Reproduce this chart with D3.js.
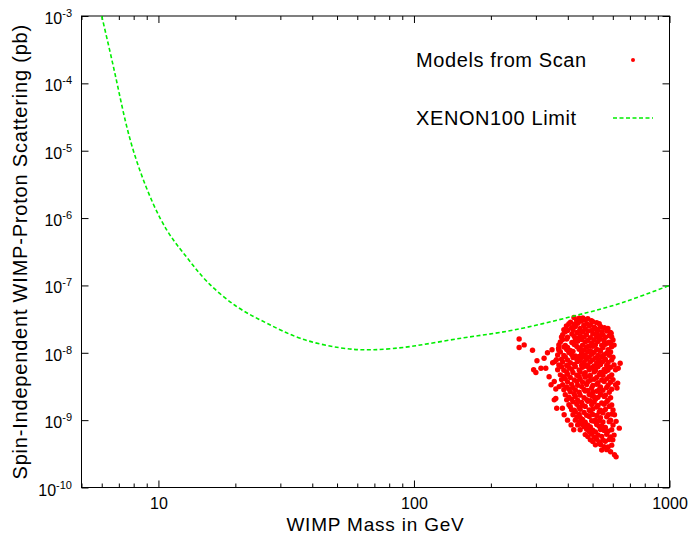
<!DOCTYPE html>
<html>
<head>
<meta charset="utf-8">
<script src="https://cdn.jsdelivr.net/npm/d3@7"></script>
<style>
  body { margin: 0; background: #fff; }
  svg { display: block; font-family: "Liberation Sans", Arial, Helvetica, sans-serif; }
</style>
</head>
<body>
<div id="chart"></div>
<script>
"use strict";

// === XENON100 limit (GeV, pb) ===
const limitMass  = [6.0, 6.89, 7.98, 10.15, 12.7, 15.5, 20.3, 26.6, 35.9, 51.1, 69.5, 99.8, 156.7, 246, 423, 646, 1000];
const limitSigma = [1e-3, 1e-4, 1e-5, 1e-6, 2.83e-7, 1.14e-7, 4.83e-8, 2.74e-8, 1.64e-8, 1.19e-8, 1.11e-8, 1.26e-8, 1.67e-8, 2.18e-8, 3.52e-8, 5.48e-8, 1.0e-7];

// === Models from the scan: [mass (GeV), sigma (pb)] ===
const scanModels = [
  [423, 3.35e-8], [443, 3.25e-8], [458, 3.3e-8], [479, 3.2e-8],
  [433, 3.05e-8], [468, 3.1e-8], [495, 3.0e-8],
  [410, 2.85e-8], [452, 2.95e-8], [501, 2.9e-8], [519, 2.8e-8],
  [404, 2.7e-8], [424, 2.65e-8], [438, 2.75e-8], [474, 2.7e-8], [490, 2.6e-8], [531, 2.7e-8],
  [395, 2.5e-8], [428, 2.45e-8], [462, 2.55e-8], [485, 2.5e-8], [537, 2.45e-8],
  [414, 2.35e-8], [447, 2.3e-8], [507, 2.4e-8], [513, 2.3e-8], [556, 2.35e-8], [574, 2.3e-8],
  [386, 2.2e-8], [399, 2.15e-8], [419, 2.2e-8], [444, 2.1e-8], [468, 2.25e-8], [496, 2.15e-8], [525, 2.2e-8], [568, 2.1e-8],
  [391, 2.05e-8], [434, 2.0e-8], [457, 2.05e-8], [479, 2.1e-8], [519, 2.0e-8], [543, 2.05e-8], [587, 2.0e-8],
  [382, 1.85e-8], [415, 1.9e-8], [447, 1.8e-8], [473, 1.85e-8], [501, 1.9e-8], [531, 1.8e-8], [549, 1.85e-8], [581, 1.8e-8],
  [378, 1.72e-8], [399, 1.7e-8], [424, 1.75e-8], [437, 1.65e-8], [463, 1.72e-8], [490, 1.68e-8], [519, 1.75e-8], [561, 1.7e-8], [594, 1.72e-8],
  [381, 1.56e-8], [396, 1.6e-8], [428, 1.55e-8], [453, 1.58e-8], [479, 1.52e-8], [507, 1.56e-8], [537, 1.6e-8], [555, 1.5e-8], [601, 1.55e-8],
  [374, 1.45e-8], [415, 1.42e-8], [437, 1.48e-8], [468, 1.45e-8], [496, 1.4e-8], [525, 1.47e-8], [581, 1.43e-8], [588, 1.38e-8],
  [369, 1.31e-8], [391, 1.28e-8], [424, 1.33e-8], [457, 1.3e-8], [485, 1.26e-8], [513, 1.32e-8], [543, 1.29e-8], [561, 1.34e-8], [607, 1.3e-8],
  [386, 1.22e-8], [399, 1.2e-8], [434, 1.24e-8], [447, 1.18e-8], [474, 1.22e-8], [501, 1.25e-8], [549, 1.2e-8], [594, 1.23e-8],
  [369, 1.1e-8], [396, 1.12e-8], [409, 1.08e-8], [443, 1.13e-8], [463, 1.1e-8], [490, 1.07e-8], [519, 1.12e-8], [531, 1.09e-8], [575, 1.11e-8],
  [374, 1.03e-8], [404, 1.01e-8], [419, 1.05e-8], [453, 1.0e-8], [479, 1.04e-8], [507, 1.02e-8], [537, 1.05e-8], [568, 9.9e-9], [588, 1.03e-8],
  [365, 9.3e-9], [386, 9.1e-9], [414, 9.4e-9], [428, 9.0e-9], [468, 9.3e-9], [496, 9.5e-9], [525, 9.1e-9], [555, 9.4e-9], [581, 9.2e-9],
  [391, 8.7e-9], [419, 8.5e-9], [443, 8.8e-9], [457, 8.6e-9], [485, 8.7e-9], [513, 8.4e-9], [543, 8.8e-9], [601, 8.6e-9],
  [361, 7.9e-9], [378, 8.0e-9], [399, 7.8e-9], [434, 7.95e-9], [447, 7.7e-9], [474, 8.0e-9], [501, 7.85e-9], [531, 7.7e-9], [561, 8.0e-9], [594, 7.8e-9],
  [382, 7.3e-9], [409, 7.1e-9], [437, 7.4e-9], [463, 7.2e-9], [490, 7.35e-9], [519, 7.1e-9], [549, 7.4e-9], [575, 7.2e-9],
  [369, 6.6e-9], [396, 6.5e-9], [424, 6.7e-9], [453, 6.55e-9], [479, 6.6e-9], [507, 6.4e-9], [537, 6.7e-9], [568, 6.5e-9], [607, 6.6e-9],
  [378, 6.2e-9], [404, 6.05e-9], [428, 6.25e-9], [457, 6.1e-9], [473, 6.3e-9], [496, 6.0e-9], [525, 6.2e-9], [588, 6.1e-9],
  [365, 5.6e-9], [386, 5.5e-9], [414, 5.7e-9], [443, 5.55e-9], [485, 5.6e-9], [513, 5.45e-9], [555, 5.65e-9], [574, 5.5e-9], [615, 5.6e-9],
  [396, 5.2e-9], [419, 5.1e-9], [447, 5.25e-9], [468, 5.05e-9], [507, 5.2e-9], [537, 5.1e-9], [561, 5.25e-9],
  [374, 4.7e-9], [399, 4.8e-9], [434, 4.65e-9], [463, 4.75e-9], [490, 4.6e-9], [531, 4.75e-9], [549, 4.65e-9], [594, 4.7e-9],
  [386, 4.4e-9], [409, 4.3e-9], [443, 4.45e-9], [468, 4.35e-9], [485, 4.5e-9], [519, 4.3e-9], [581, 4.4e-9],
  [378, 4.0e-9], [391, 4.1e-9], [424, 3.95e-9], [447, 4.05e-9], [490, 3.9e-9], [507, 4.05e-9], [543, 3.95e-9], [568, 4.1e-9], [601, 4.0e-9],
  [399, 3.7e-9], [434, 3.75e-9], [457, 3.65e-9], [479, 3.72e-9], [525, 3.6e-9], [555, 3.75e-9], [588, 3.65e-9],
  [382, 3.35e-9], [414, 3.4e-9], [437, 3.3e-9], [474, 3.38e-9], [501, 3.28e-9], [519, 3.4e-9], [575, 3.3e-9], [615, 3.35e-9],
  [396, 3.1e-9], [419, 3.05e-9], [453, 3.15e-9], [496, 3.0e-9], [537, 3.12e-9], [568, 3.05e-9],
  [386, 2.83e-9], [404, 2.9e-9], [428, 2.8e-9], [463, 2.86e-9], [479, 2.75e-9], [531, 2.85e-9], [549, 2.78e-9], [594, 2.88e-9],
  [409, 2.65e-9], [443, 2.6e-9], [468, 2.7e-9], [501, 2.62e-9], [519, 2.68e-9], [581, 2.6e-9],
  [391, 2.38e-9], [424, 2.42e-9], [447, 2.35e-9], [485, 2.4e-9], [496, 2.32e-9], [537, 2.4e-9], [561, 2.35e-9],
  [404, 2.2e-9], [428, 2.25e-9], [463, 2.15e-9], [507, 2.22e-9], [525, 2.18e-9], [555, 2.25e-9], [588, 2.15e-9],
  [396, 2.0e-9], [414, 2.05e-9], [437, 1.97e-9], [474, 2.02e-9], [490, 1.95e-9], [513, 2.05e-9], [574, 1.98e-9],
  [419, 1.87e-9], [453, 1.83e-9], [479, 1.9e-9], [507, 1.85e-9], [543, 1.8e-9], [568, 1.88e-9],
  [404, 1.69e-9], [434, 1.72e-9], [457, 1.66e-9], [496, 1.7e-9], [525, 1.65e-9], [555, 1.72e-9], [594, 1.68e-9],
  [409, 1.58e-9], [443, 1.55e-9], [468, 1.6e-9], [519, 1.57e-9], [581, 1.6e-9],
  [414, 1.43e-9], [424, 1.4e-9], [447, 1.45e-9], [485, 1.42e-9], [501, 1.46e-9], [537, 1.41e-9], [561, 1.44e-9], [601, 1.42e-9],
  [428, 1.33e-9], [463, 1.3e-9], [490, 1.35e-9], [531, 1.32e-9], [549, 1.29e-9],
  [419, 1.2e-9], [443, 1.22e-9], [474, 1.18e-9], [501, 1.21e-9], [519, 1.17e-9], [575, 1.2e-9], [594, 1.23e-9],
  [434, 1.12e-9], [447, 1.1e-9], [485, 1.13e-9], [537, 1.09e-9], [568, 1.12e-9],
  [428, 1.0e-9], [457, 1.02e-9], [496, 9.8e-10], [513, 1.01e-9], [531, 9.9e-10], [588, 1.0e-9],
  [443, 9.5e-10], [468, 9.3e-10], [507, 9.6e-10], [549, 9.4e-10], [581, 9.5e-10],
  [437, 8.5e-10], [453, 8.7e-10], [479, 8.4e-10], [519, 8.6e-10], [543, 8.3e-10], [601, 8.5e-10],
  [463, 8.0e-10], [490, 7.9e-10], [531, 8.1e-10], [561, 7.8e-10],
  [447, 7.2e-10], [474, 7.3e-10], [501, 7.1e-10], [537, 7.25e-10], [555, 7.0e-10], [594, 7.2e-10],
  [485, 6.8e-10], [513, 6.7e-10], [575, 6.85e-10],
  [468, 6.1e-10], [496, 6.2e-10], [525, 6.05e-10], [568, 6.15e-10], [607, 6.0e-10],
  [479, 5.7e-10], [507, 5.6e-10], [543, 5.75e-10], [588, 5.65e-10],
  [490, 5.1e-10], [519, 5.2e-10], [549, 5.05e-10], [581, 5.15e-10],
  [501, 4.8e-10], [531, 4.75e-10], [561, 4.85e-10],
  [513, 4.3e-10], [537, 4.35e-10], [594, 4.25e-10],
  [555, 4.05e-10], [575, 4.0e-10],
  [543, 3.6e-10], [568, 3.65e-10],
  [588, 3.4e-10],
  // stragglers around the main cloud
  [258, 1.6e-8], [270, 1.31e-8], [258, 1.2e-8], [291, 1.09e-8], [333, 1.0e-8], [347, 1.11e-8], [368, 1.16e-8],
  [303, 7.6e-9], [323, 8.3e-9], [314, 5.9e-9], [328, 5.9e-9], [349, 7.1e-9], [356, 7.4e-9], [294, 5.6e-9], [300, 5.1e-9],
  [338, 4.4e-9], [344, 3.35e-9], [354, 3.75e-9], [359, 2.9e-9], [370, 3.15e-9], [359, 2.1e-9], [354, 2.0e-9],
  [362, 1.5e-9], [381, 1.5e-9], [387, 1.2e-9], [399, 1.0e-9], [412, 8.5e-10], [422, 7.2e-10],
  [609, 3.07e-10], [618, 2.85e-10], [600, 5.1e-10], [636, 7.6e-10], [618, 9.6e-10], [609, 1.2e-9],
  [623, 3.0e-9], [627, 3.55e-9], [641, 7.0e-9], [630, 5.9e-9], [591, 1.95e-8], [574, 1.4e-8]
];

// === Ticks ===
const xMajorTicks = [10, 100, 1000];
const xMinorTicks = [5, 6, 7, 8, 9, 20, 30, 40, 50, 60, 70, 80, 90, 200, 300, 400, 500, 600, 700, 800, 900];
const yTicks = [1e-3, 1e-4, 1e-5, 1e-6, 1e-7, 1e-8, 1e-9, 1e-10];
const yTickExponents = ["-3", "-4", "-5", "-6", "-7", "-8", "-9", "-10"];

// === SVG setup ===
const width = 691, height = 535;
const plot = { left: 81.5, right: 669.5, top: 16, bottom: 487.5 };

const svg = d3.select("#chart")
  .append("svg")
  .attr("width", width)
  .attr("height", height);

// === Scales ===
const x = d3.scaleLog().domain([5, 1000]).range([plot.left, plot.right]);
const y = d3.scaleLog().domain([1e-10, 1e-3]).range([plot.bottom, plot.top]);

// === Axes (ticks point inward, mirrored on top/right) ===
function drawAxis(axis, tx, ty) {
  const g = svg.append("g")
    .attr("transform", `translate(${tx},${ty})`)
    .call(axis);
  g.select(".domain").remove();
  g.selectAll(".tick line").attr("stroke", "#000");
  return g;
}

const bottomMajor = drawAxis(d3.axisBottom(x).tickValues(xMajorTicks).tickSize(-7).tickPadding(10)
  .tickFormat(d3.format("d")), 0, plot.bottom);
bottomMajor.selectAll("text")
  .attr("font-size", "16px")
  .attr("font-family", "Liberation Sans, Arial, sans-serif")
  .attr("fill", "#000");
drawAxis(d3.axisBottom(x).tickValues(xMinorTicks).tickSize(-4).tickFormat(""), 0, plot.bottom);
drawAxis(d3.axisTop(x).tickValues(xMajorTicks).tickSize(-7).tickFormat(""), 0, plot.top);
drawAxis(d3.axisTop(x).tickValues(xMinorTicks).tickSize(-4).tickFormat(""), 0, plot.top);
drawAxis(d3.axisLeft(y).tickValues(yTicks).tickSize(-7).tickFormat(""), plot.left, 0);
drawAxis(d3.axisRight(y).tickValues(yTicks).tickSize(-7).tickFormat(""), plot.right, 0);

// y tick labels with superscript exponent
const yLabels = svg.append("g")
  .selectAll("text")
  .data(yTicks)
  .enter()
  .append("text")
  .attr("x", 72)
  .attr("y", d => y(d) + 8)
  .attr("text-anchor", "end")
  .attr("font-size", "16px");
yLabels.append("tspan").text("10");
yLabels.append("tspan")
  .attr("font-size", "11px")
  .attr("dy", -7)
  .text((d, i) => yTickExponents[i]);

// === Plot border ===
svg.append("rect")
  .attr("x", plot.left)
  .attr("y", plot.top)
  .attr("width", plot.right - plot.left)
  .attr("height", plot.bottom - plot.top)
  .attr("fill", "none")
  .attr("stroke", "#000")
  .attr("stroke-width", 1);

// === Clip ===
svg.append("clipPath").attr("id", "plot-clip")
  .append("rect")
  .attr("x", plot.left)
  .attr("y", plot.top)
  .attr("width", plot.right - plot.left)
  .attr("height", plot.bottom - plot.top);

// === Scan models ===
svg.append("g")
  .attr("clip-path", "url(#plot-clip)")
  .selectAll("circle")
  .data(scanModels)
  .enter()
  .append("circle")
  .attr("cx", d => x(d[0]))
  .attr("cy", d => y(d[1]))
  .attr("r", 2.7)
  .attr("fill", "#ff0000");

// === XENON100 limit ===
const limitPoints = limitMass.map((m, i) => [m, limitSigma[i]]);
const line = d3.line()
  .x(d => x(d[0]))
  .y(d => y(d[1]))
  .curve(d3.curveNatural);

svg.append("path")
  .datum(limitPoints)
  .attr("clip-path", "url(#plot-clip)")
  .attr("d", line)
  .attr("fill", "none")
  .attr("stroke", "#00ee00")
  .attr("stroke-width", 1.6)
  .attr("stroke-dasharray", "4,2.5");

// === Key ===
svg.append("text")
  .attr("x", 416)
  .attr("y", 67)
  .attr("font-size", "20px")
  .attr("letter-spacing", "0.6px")
  .text("Models from Scan");

svg.append("circle")
  .attr("cx", 633)
  .attr("cy", 60)
  .attr("r", 2)
  .attr("fill", "#ff0000");

svg.append("text")
  .attr("x", 416)
  .attr("y", 125)
  .attr("font-size", "20px")
  .attr("letter-spacing", "0.6px")
  .text("XENON100 Limit");

svg.append("line")
  .attr("x1", 613).attr("x2", 653)
  .attr("y1", 118).attr("y2", 118)
  .attr("stroke", "#00ee00")
  .attr("stroke-width", 1.6)
  .attr("stroke-dasharray", "4,2.5");

// === Axis titles ===
svg.append("text")
  .attr("x", (plot.left + plot.right) / 2)
  .attr("y", 531)
  .attr("text-anchor", "middle")
  .attr("font-size", "19px")
  .attr("letter-spacing", "0.8px")
  .text("WIMP Mass in GeV");

svg.append("text")
  .attr("transform", "rotate(-90)")
  .attr("x", -(plot.top + plot.bottom) / 2)
  .attr("y", 27)
  .attr("text-anchor", "middle")
  .attr("font-size", "20px")
  .attr("letter-spacing", "0.8px")
  .text("Spin-Independent WIMP-Proton Scattering (pb)");
</script>
</body>
</html>
